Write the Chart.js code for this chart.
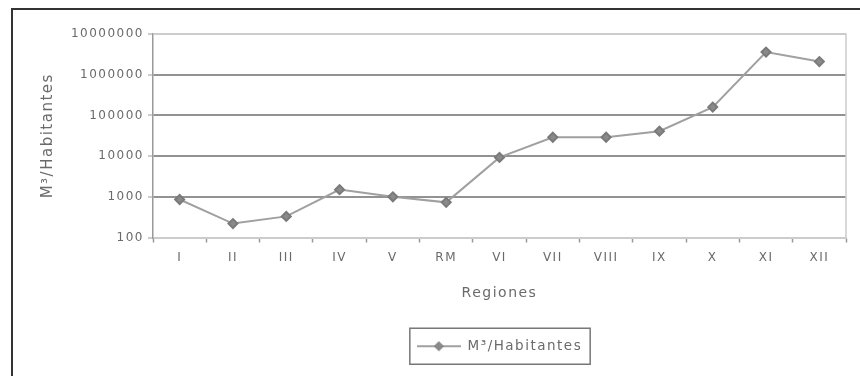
<!DOCTYPE html>
<html>
<head>
<meta charset="utf-8">
<script src="https://cdn.jsdelivr.net/npm/chart.js@4/dist/chart.umd.min.js"></script>
<style>
  html, body { margin: 0; padding: 0; background: #fff; }
  #wrap { position: relative; width: 860px; height: 376px; overflow: hidden; }
  #frame { position: absolute; left: 11px; top: 8px; width: 900px; height: 400px;
           border-left: 2px solid #333; border-top: 2px solid #333; }
  canvas { position: absolute; left: 0; top: 0; }
</style>
</head>
<body>
<div id="wrap">
  <div id="frame"></div>
  <canvas id="chart" width="860" height="376"></canvas>
</div>
<script>
// data
var regiones = ['I', 'II', 'III', 'IV', 'V', 'RM', 'VI', 'VII', 'VIII', 'IX', 'X', 'XI', 'XII'];
var m3PorHabitante = [860, 220, 330, 1500, 1000, 730, 9300, 29000, 29000, 41000, 160000, 3600000, 2100000];
var yTicks = [100, 1000, 10000, 100000, 1000000, 10000000];

var txt = '#6a6a6a';
var fam = '"DejaVu Sans", Verdana, sans-serif';

// legend symbol: short line with a diamond in the middle
var sym = document.createElement('canvas');
sym.width = 44; sym.height = 12;
(function () {
  var c = sym.getContext('2d');
  c.strokeStyle = '#a0a0a0'; c.lineWidth = 2;
  c.beginPath(); c.moveTo(0, 6); c.lineTo(44, 6); c.stroke();
  c.fillStyle = '#8a8a8a'; c.strokeStyle = '#777'; c.lineWidth = 1;
  c.beginPath(); c.moveTo(22, 1.5); c.lineTo(26.5, 6); c.lineTo(22, 10.5); c.lineTo(17.5, 6); c.closePath();
  c.fill(); c.stroke();
})();

// wide lettering, light frame round the plot, box round the legend
var extras = {
  id: 'extras',
  beforeUpdate: function (chart) { chart.ctx.letterSpacing = '1.5px'; },
  beforeDraw: function (chart) { chart.ctx.letterSpacing = '1.5px'; },
  afterLayout: function (chart) {
    // centre the legend under the plot area
    var a = chart.chartArea, lg = chart.legend;
    lg.left = a.left; lg.right = a.right; lg.width = a.right - a.left;
  },
  afterDraw: function (chart) {
    var c = chart.ctx, a = chart.chartArea;
    c.save();
    c.strokeStyle = '#ccc';
    c.lineWidth = 1.5;
    c.beginPath();
    c.moveTo(a.left, a.top);
    c.lineTo(a.right, a.top);
    c.lineTo(a.right, a.bottom);
    c.stroke();
    var lg = chart.legend;
    if (lg && lg.legendHitBoxes.length) {
      var hb = lg.legendHitBoxes[0];
      var cy = hb.top + hb.height / 2;
      c.strokeStyle = '#777';
      c.lineWidth = 1.5;
      c.strokeRect(hb.left - 7, cy - 18, hb.width + 15, 36);
    }
    c.restore();
  }
};

new Chart(document.getElementById('chart'), {
  type: 'line',
  data: {
    labels: regiones,
    datasets: [{
      label: 'M³/Habitantes',
      data: m3PorHabitante,
      borderColor: '#a0a0a0',
      borderWidth: 2,
      backgroundColor: '#888',
      pointStyle: 'rectRot',
      pointRadius: 4.5,
      pointBorderColor: '#7a7a7a',
      pointBackgroundColor: '#8a8a8a',
      tension: 0
    }]
  },
  options: {
    responsive: false,
    animation: false,
    layout: { padding: { left: 0, right: 14, top: 34, bottom: 13 } },
    scales: {
      x: {
        type: 'category',
        offset: true,
        grid: { offset: true, drawOnChartArea: false, tickLength: 5, color: '#999', tickWidth: 1.5 },
        border: { color: '#ccc', width: 1.5 },
        ticks: { color: txt, font: { family: fam, size: 12 }, padding: 8 },
        title: { display: true, text: 'Regiones', color: txt, font: { family: fam, size: 14 }, padding: { top: 10, bottom: 28 } },
        afterFit: function (s) { s.height = 92; }
      },
      y: {
        type: 'logarithmic',
        min: 100,
        max: 10000000,
        afterBuildTicks: function (s) {
          s.ticks = yTicks.map(function (v) { return { value: v }; });
        },
        grid: {
          color: function (ctx) {
            var v = ctx.tick && ctx.tick.value;
            return (v === 100 || v === 10000000) ? '#ccc' : '#929292';
          },
          lineWidth: 2,
          tickLength: 5,
          tickColor: '#999',
          tickWidth: 1
        },
        border: { color: '#999', width: 1.5 },
        ticks: {
          color: txt, font: { family: fam, size: 12 }, padding: 4,
          callback: function (v) { return String(v); }
        },
        title: { display: true, text: 'M³/Habitantes', color: txt, font: { family: fam, size: 15 }, padding: { top: 39, bottom: 0 } },
        afterFit: function (s) { s.width = 153; }
      }
    },
    plugins: {
      legend: {
        position: 'bottom',
        labels: {
          color: txt, font: { family: fam, size: 13.5 },
          usePointStyle: true, pointStyleWidth: 44, padding: 10,
          generateLabels: function (chart) {
            var ds = chart.data.datasets[0];
            return [{ text: ds.label, pointStyle: sym, fillStyle: '#888', strokeStyle: '#999', lineWidth: 0, datasetIndex: 0, fontColor: txt }];
          }
        }
      },
      tooltip: { enabled: false }
    }
  },
  plugins: [extras]
});
</script>
</body>
</html>
